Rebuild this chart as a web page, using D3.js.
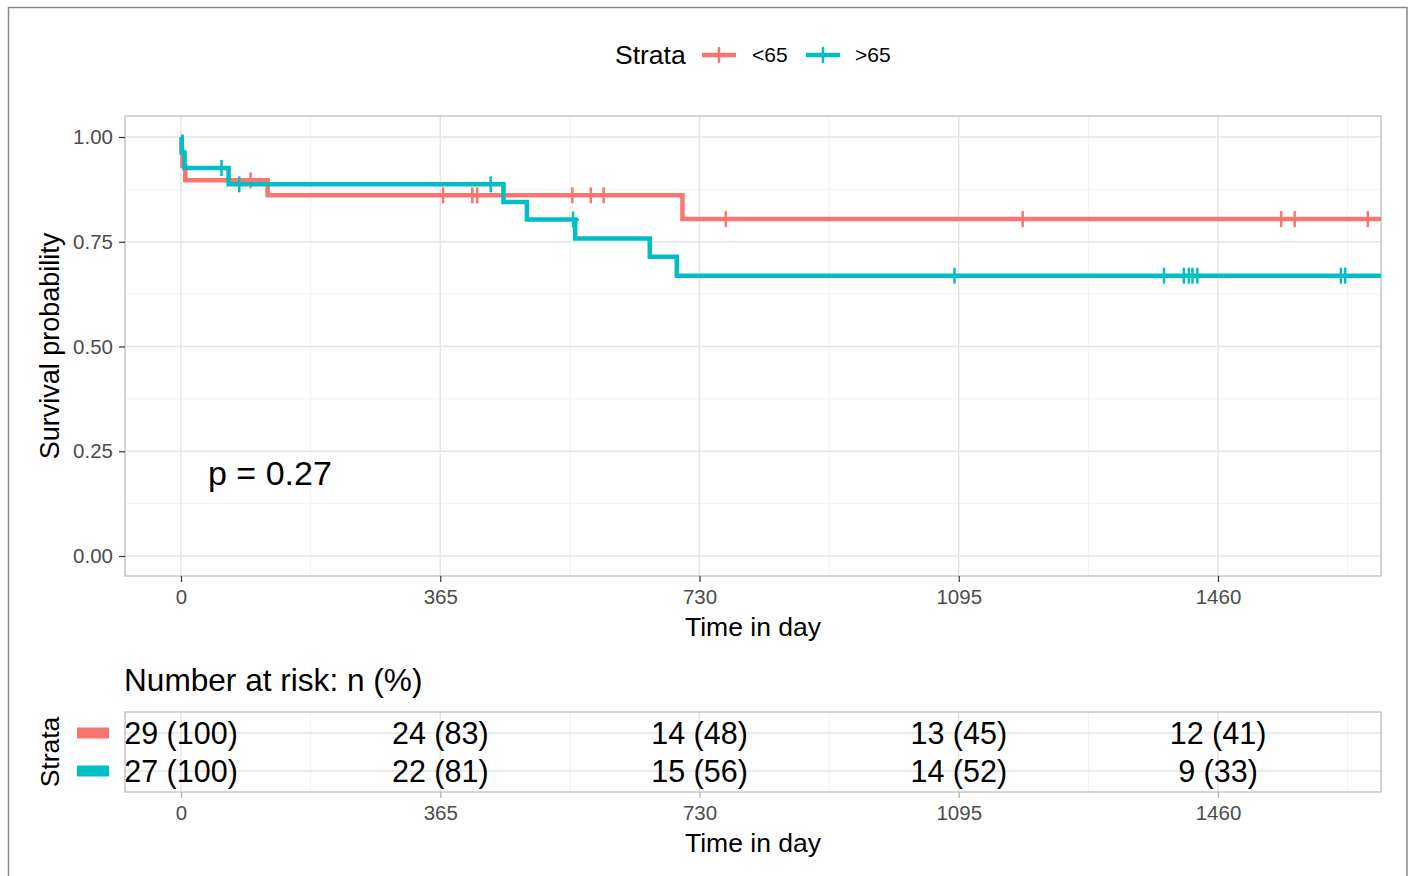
<!DOCTYPE html>
<html>
<head>
<meta charset="utf-8">
<script src="https://cdn.jsdelivr.net/npm/d3@7"></script>
<style>
  html, body { margin: 0; padding: 0; background: #fff; }
  svg { display: block; }
  text { font-family: "Liberation Sans", Arial, Helvetica, sans-serif; }
</style>
</head>
<body>
<svg id="chart" width="1412" height="876"></svg>
<script>
// ---------- data ----------
const strata = ["<65", ">65"];
const strataColors = ["#F8766D", "#00BFC4"];

const redTimes = [0, 1, 2, 6, 122, 706];
const redSurv  = [1, 0.9655, 0.931, 0.8966, 0.8607, 0.804];
const redCensor = [98, 369, 410, 417, 551, 577, 595, 767, 1185, 1549, 1568, 1671];

const tealTimes = [0, 1, 5, 67, 454, 487, 555, 660, 698];
const tealSurv  = [1, 0.963, 0.926, 0.887, 0.845, 0.803, 0.758, 0.714, 0.669];
const tealCensor = [57, 82, 436, 552, 1089, 1384, 1412, 1419, 1424, 1431, 1633, 1639];

const lastTime = 1700;

const xBreaks = [0, 365, 730, 1095, 1460];
const xMinor = [182.5, 547.5, 912.5, 1277.5, 1642.5];
const yBreaks = [0, 0.25, 0.5, 0.75, 1];
const yMinor = [0.125, 0.375, 0.625, 0.875];
const yLabels = ["0.00", "0.25", "0.50", "0.75", "1.00"];
const xLabels = ["0", "365", "730", "1095", "1460"];

const riskRed  = ["29 (100)", "24 (83)", "14 (48)", "13 (45)", "12 (41)"];
const riskTeal = ["27 (100)", "22 (81)", "15 (56)", "14 (52)", "9 (33)"];

const pValueText = "p = 0.27";

// ---------- layout ----------
const svg = d3.select("#chart");
const P = { left: 125, right: 1381, top: 116, bottom: 576 };
const R = { top: 712, bottom: 792 };

const x = d3.scaleLinear().domain([-78.84, 1689.5]).range([P.left, P.right]);
const y = d3.scaleLinear().domain([-0.0477, 1.0501]).range([P.bottom, P.top]);

const gridMajor = "#e4e4e4", gridMinor = "#f2f2f2", borderCol = "#c4c4c4";
const tickCol = "#333333", tickTextCol = "#4d4d4d";
const tickFont = 20.5, titleFont = 26.5;

// outer frame
svg.append("rect").attr("x", 8.5).attr("y", 7.5).attr("width", 1398.5).attr("height", 880)
  .attr("fill", "none").attr("stroke", "#8a8a8a").attr("stroke-width", 1.5);

// ---------- legend ----------
const leg = svg.append("g");
leg.append("text").attr("x", 615).attr("y", 64).attr("font-size", titleFont).attr("fill", "#000").text("Strata");
const legItems = [{ x0: 702, label: strata[0], c: strataColors[0], tx: 752 },
                  { x0: 806, label: strata[1], c: strataColors[1], tx: 855 }];
legItems.forEach(d => {
  leg.append("line").attr("x1", d.x0).attr("x2", d.x0 + 34).attr("y1", 55).attr("y2", 55)
    .attr("stroke", d.c).attr("stroke-width", 4.5);
  leg.append("line").attr("x1", d.x0 + 17).attr("x2", d.x0 + 17).attr("y1", 47).attr("y2", 63)
    .attr("stroke", d.c).attr("stroke-width", 2.5);
  leg.append("text").attr("x", d.tx).attr("y", 62).attr("font-size", 21).attr("fill", "#000").text(d.label);
});

// ---------- main panel ----------
const main = svg.append("g");
main.append("rect").attr("x", P.left).attr("y", P.top).attr("width", P.right - P.left)
  .attr("height", P.bottom - P.top).attr("fill", "#fff");
yMinor.forEach(v => main.append("line").attr("x1", P.left).attr("x2", P.right)
  .attr("y1", y(v)).attr("y2", y(v)).attr("stroke", gridMinor).attr("stroke-width", 1));
xMinor.forEach(v => main.append("line").attr("y1", P.top).attr("y2", P.bottom)
  .attr("x1", x(v)).attr("x2", x(v)).attr("stroke", gridMinor).attr("stroke-width", 1));
yBreaks.forEach(v => main.append("line").attr("x1", P.left).attr("x2", P.right)
  .attr("y1", y(v)).attr("y2", y(v)).attr("stroke", gridMajor).attr("stroke-width", 1.4));
xBreaks.forEach(v => main.append("line").attr("y1", P.top).attr("y2", P.bottom)
  .attr("x1", x(v)).attr("x2", x(v)).attr("stroke", gridMajor).attr("stroke-width", 1.4));

svg.append("clipPath").attr("id", "clipMain").append("rect")
  .attr("x", P.left).attr("y", P.top).attr("width", P.right - P.left).attr("height", P.bottom - P.top);

const curves = [
  { times: redTimes, surv: redSurv, censor: redCensor, c: strataColors[0] },
  { times: tealTimes, surv: tealSurv, censor: tealCensor, c: strataColors[1] }
];
const line = d3.line().x(d => x(d[0])).y(d => y(d[1])).curve(d3.curveStepAfter);
const cg = svg.append("g").attr("clip-path", "url(#clipMain)");
curves.forEach(cv => {
  const pts = cv.times.map((t, i) => [t, cv.surv[i]]);
  pts.push([lastTime, cv.surv[cv.surv.length - 1]]);
  cg.append("path").attr("d", line(pts)).attr("fill", "none").attr("stroke", cv.c)
    .attr("stroke-width", 4.5).attr("stroke-linejoin", "miter");
  const stepAt = t => { let s = 1; cv.times.forEach((tt, i) => { if (tt <= t) s = cv.surv[i]; }); return s; };
  cv.censor.forEach(t => {
    const cx = x(t), cy = y(stepAt(t));
    cg.append("line").attr("x1", cx).attr("x2", cx).attr("y1", cy - 8).attr("y2", cy + 8)
      .attr("stroke", cv.c).attr("stroke-width", 2.5);
    cg.append("line").attr("x1", cx - 6).attr("x2", cx + 6).attr("y1", cy).attr("y2", cy)
      .attr("stroke", cv.c).attr("stroke-width", 2.5);
  });
});

main.append("rect").attr("x", P.left).attr("y", P.top).attr("width", P.right - P.left)
  .attr("height", P.bottom - P.top).attr("fill", "none").attr("stroke", borderCol).attr("stroke-width", 1.4);

// y axis
const yAxis = d3.axisLeft(y).tickValues(yBreaks).tickFormat((d, i) => yLabels[i]).tickSize(6).tickPadding(6);
const yg = svg.append("g").attr("transform", `translate(${P.left},0)`).call(yAxis);
yg.select(".domain").remove();
yg.selectAll(".tick line").attr("stroke", tickCol).attr("stroke-width", 1.2);
yg.selectAll(".tick text").attr("font-size", tickFont).attr("fill", tickTextCol)
  .attr("font-family", "Liberation Sans, Arial, sans-serif");

// x axis
const xAxis = d3.axisBottom(x).tickValues(xBreaks).tickFormat((d, i) => xLabels[i]).tickSize(6).tickPadding(7);
const xg = svg.append("g").attr("transform", `translate(0,${P.bottom})`).call(xAxis);
xg.select(".domain").remove();
xg.selectAll(".tick line").attr("stroke", tickCol).attr("stroke-width", 1.2);
xg.selectAll(".tick text").attr("font-size", tickFont).attr("fill", tickTextCol)
  .attr("font-family", "Liberation Sans, Arial, sans-serif");

svg.append("text").attr("x", (P.left + P.right) / 2).attr("y", 636).attr("text-anchor", "middle")
  .attr("font-size", titleFont).attr("fill", "#000").text("Time in day");
svg.append("text").attr("transform", `translate(59,${(P.top + P.bottom) / 2}) rotate(-90)`)
  .attr("text-anchor", "middle").attr("font-size", 27).attr("fill", "#000").text("Survival probability");

svg.append("text").attr("x", x(38)).attr("y", 485).attr("font-size", 34).attr("fill", "#000").text(pValueText);

// ---------- risk table ----------
svg.append("text").attr("x", 124).attr("y", 691).attr("font-size", 31.6).attr("fill", "#000")
  .text("Number at risk: n (%)");

const yr = d3.scalePoint().domain(strata).range([733, 771]);
const rt = svg.append("g");
rt.append("rect").attr("x", P.left).attr("y", R.top).attr("width", P.right - P.left)
  .attr("height", R.bottom - R.top).attr("fill", "#fff");
xMinor.forEach(v => rt.append("line").attr("y1", R.top).attr("y2", R.bottom)
  .attr("x1", x(v)).attr("x2", x(v)).attr("stroke", gridMinor).attr("stroke-width", 1));
xBreaks.forEach(v => rt.append("line").attr("y1", R.top).attr("y2", R.bottom)
  .attr("x1", x(v)).attr("x2", x(v)).attr("stroke", gridMajor).attr("stroke-width", 1.4));
strata.forEach(s => rt.append("line").attr("x1", P.left).attr("x2", P.right)
  .attr("y1", yr(s)).attr("y2", yr(s)).attr("stroke", gridMajor).attr("stroke-width", 1.4));

[riskRed, riskTeal].forEach((row, r) => {
  row.forEach((txt, i) => {
    rt.append("text").attr("x", x(xBreaks[i])).attr("y", yr(strata[r])).attr("dy", "0.36em")
      .attr("text-anchor", "middle").attr("font-size", 30.5).attr("fill", "#000").text(txt);
  });
});
rt.append("rect").attr("x", P.left).attr("y", R.top).attr("width", P.right - P.left)
  .attr("height", R.bottom - R.top).attr("fill", "none").attr("stroke", borderCol).attr("stroke-width", 1.4);

strata.forEach((s, i) => {
  rt.append("rect").attr("x", 77).attr("y", yr(s) - 5.5).attr("width", 32).attr("height", 11)
    .attr("fill", strataColors[i]);
});
svg.append("text").attr("transform", `translate(59,752) rotate(-90)`)
  .attr("text-anchor", "middle").attr("font-size", titleFont).attr("fill", "#000").text("Strata");

const xg2 = svg.append("g").attr("transform", `translate(0,${R.bottom})`)
  .call(d3.axisBottom(x).tickValues(xBreaks).tickFormat((d, i) => xLabels[i]).tickSize(6).tickPadding(7));
xg2.select(".domain").remove();
xg2.selectAll(".tick line").attr("stroke", "#b0b0b0").attr("stroke-width", 1.2);
xg2.selectAll(".tick text").attr("font-size", tickFont).attr("fill", tickTextCol)
  .attr("font-family", "Liberation Sans, Arial, sans-serif");

svg.append("text").attr("x", (P.left + P.right) / 2).attr("y", 852).attr("text-anchor", "middle")
  .attr("font-size", titleFont).attr("fill", "#000").text("Time in day");
</script>
</body>
</html>
